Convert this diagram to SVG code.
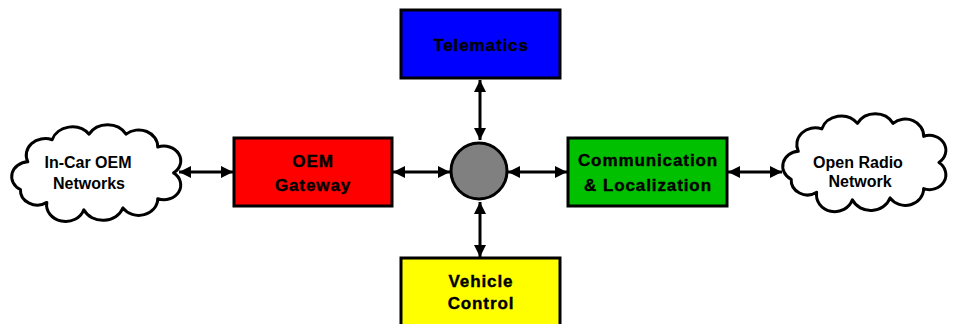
<svg xmlns="http://www.w3.org/2000/svg" width="959" height="324" viewBox="0 0 959 324">
<defs>
<style>
.box{stroke:#000;stroke-width:3}
.cloud{fill:#fff;stroke:#000;stroke-width:3;stroke-linejoin:round}
.lbl{font-family:"Liberation Sans",Arial,sans-serif;font-weight:bold;font-size:17px;letter-spacing:0.9px;text-anchor:middle;fill:#000;stroke:#000;stroke-width:0.4}
.clbl{font-family:"Liberation Sans",Arial,sans-serif;font-weight:bold;font-size:16px;text-anchor:middle;fill:#000}
.conn{stroke:#000;stroke-width:3;fill:none;marker-start:url(#ah);marker-end:url(#ah)}
</style>
<marker id="ah" viewBox="0 0 12 12" refX="12" refY="6" markerWidth="12" markerHeight="12" markerUnits="userSpaceOnUse" orient="auto-start-reverse">
<path d="M0,0 L12,6 L0,12 Z" fill="#000"/>
</marker>
<path id="cloudshape" vector-effect="non-scaling-stroke" d="M22,38 A18 18 0 0 1 45,14 A20 20 0 0 1 80,8 A20 20 0 0 1 115,8 A18 18 0 0 1 145,22 A16 16 0 0 1 160,50 A16 16 0 0 1 145,78 A18 18 0 0 1 112,88 A20 20 0 0 1 75,90 A18 18 0 0 1 40,82 A16 16 0 0 1 15,68 A16 16 0 0 1 22,38 Z"/>
</defs>
<rect width="959" height="324" fill="#fff"/>
<g id="connectors">
<line class="conn" x1="179" y1="172" x2="233" y2="172"/>
<line class="conn" x1="393" y1="172" x2="450" y2="172"/>
<line class="conn" x1="508" y1="172" x2="567" y2="172"/>
<line class="conn" x1="728" y1="172" x2="782" y2="172"/>
<line class="conn" x1="480" y1="80" x2="480" y2="140"/>
<line class="conn" x1="480" y1="202" x2="480" y2="257"/>
</g>
<g id="incar">
<use href="#cloudshape" class="cloud" transform="translate(4.6,126.8) scale(1.056,0.922)"/>
<text class="clbl" x="88" y="168">In-Car OEM</text>
<text class="clbl" x="89" y="189">Networks</text>
</g>
<g id="oem">
<rect class="box" x="234" y="138" width="158" height="68" fill="#ff0000"/>
<text class="lbl" x="313" y="167">OEM</text>
<text class="lbl" x="313" y="191">Gateway</text>
</g>
<g id="hub">
<circle cx="479" cy="171" r="28" fill="#808080" stroke="#000" stroke-width="3"/>
</g>
<g id="telematics">
<rect class="box" x="401" y="10" width="159" height="68" fill="#0000ff"/>
<text class="lbl" x="481" y="51">Telematics</text>
</g>
<g id="comm">
<rect class="box" x="568" y="138" width="159" height="68" fill="#00c000"/>
<text class="lbl" x="648" y="166">Communication</text>
<text class="lbl" x="648" y="191">&amp; Localization</text>
</g>
<g id="vehicle">
<rect class="box" x="401" y="258" width="159" height="80" fill="#ffff00"/>
<text class="lbl" x="481" y="287">Vehicle</text>
<text class="lbl" x="481" y="309">Control</text>
</g>
<g id="openradio">
<use href="#cloudshape" class="cloud" transform="translate(775.9,115.9) scale(1.019,0.932)"/>
<text class="clbl" x="858" y="168">Open Radio</text>
<text class="clbl" x="860" y="187">Network</text>
</g>
</svg>
